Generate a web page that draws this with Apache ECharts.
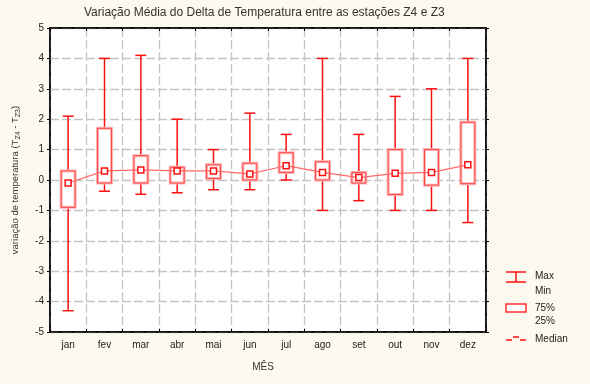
<!DOCTYPE html>
<html><head><meta charset="utf-8">
<script src="https://cdn.jsdelivr.net/npm/echarts@6/dist/echarts.min.js"></script>
<style>html,body{margin:0;padding:0;background:#fef9ee;}#c{width:590px;height:384px;}</style>
</head><body><div id="c"></div>
<script>
const months = ['jan','fev','mar','abr','mai','jun','jul','ago','set','out','nov','dez'];
const maxV   = [2.1, 4.0, 4.1, 2.0, 1.0, 2.2, 1.5, 4.0, 1.5, 2.75, 3.0, 4.0];
const q3V    = [0.3, 1.7, 0.8, 0.42, 0.5, 0.55, 0.9, 0.6, 0.25, 1.0, 1.0, 1.9];
const medV   = [-0.1, 0.3, 0.33, 0.3, 0.3, 0.2, 0.47, 0.25, 0.08, 0.22, 0.25, 0.5];
const q1V    = [-0.9, -0.1, -0.1, -0.1, 0.05, 0.0, 0.25, 0.0, -0.1, -0.48, -0.17, -0.12];
const minV   = [-4.3, -0.37, -0.47, -0.42, -0.32, -0.32, 0.0, -1.0, -0.68, -1.0, -1.0, -1.4];
const yTicks = [-5,-4,-3,-2,-1,0,1,2,3,4,5];

const boxData = months.map((m,i)=>[i, maxV[i], q3V[i], q1V[i], minV[i]]);
const FONT = 'Liberation Sans, Arial, sans-serif';
const chart = echarts.init(document.getElementById('c'));
chart.setOption({
  backgroundColor:'#fef9ee',
  animation:false,
  title:{text:'Variação Média do Delta de Temperatura entre as estações Z4 e Z3', left:79, top:2,
    textStyle:{fontFamily:FONT, fontSize:12, fontWeight:'normal', color:'#333'}},
  grid:{left:50, right:104, top:28, bottom:52, show:true, backgroundColor:'#ffffff', borderColor:'#000', borderWidth:1.5},
  xAxis:[{type:'category', data:months, boundaryGap:true,
    axisLine:{show:true, onZero:false, lineStyle:{color:'#000', width:1.5}},
    axisTick:{show:true, inside:true, length:3, lineStyle:{color:'#000'}},
    axisLabel:{fontFamily:FONT, fontSize:10, color:'#222', margin:8},
    splitLine:{show:true, lineStyle:{color:'#c4c4c4', width:1.3, type:[9,3]}},
    name:'MÊS', nameLocation:'middle', nameGap:30,
    nameTextStyle:{fontFamily:FONT, fontSize:10, color:'#333', padding:[0,10,0,0]}
  },{type:'category', data:months, boundaryGap:true, position:'top',
    axisLine:{show:true, onZero:false, lineStyle:{color:'#000', width:1.5}},
    axisTick:{show:true, inside:true, length:3, lineStyle:{color:'#000'}},
    axisLabel:{show:false}, splitLine:{show:false}}],
  yAxis:[{type:'value', min:-5, max:5, interval:1,
    axisLine:{show:true, onZero:false, lineStyle:{color:'#000', width:1.5}},
    axisTick:{show:true, length:3, lineStyle:{color:'#000'}},
    axisLabel:{fontFamily:FONT, fontSize:10, color:'#222', margin:6,
      formatter:v=>yTicks.includes(v)?String(v):''},
    splitLine:{show:true, lineStyle:{color:'#c4c4c4', width:1.3, type:[9,3]}},
    name:'variação de temperatura (T{s|Z4} - T{s|Z3})', nameLocation:'middle', nameGap:35,
    nameTextStyle:{fontFamily:FONT, fontSize:9.5, color:'#333', lineHeight:14, verticalAlign:'middle',
      rich:{s:{fontFamily:FONT, fontSize:7, color:'#333', lineHeight:14, verticalAlign:'bottom'}}}
  },{type:'value', min:-5, max:5, interval:1, position:'right',
    axisLine:{show:true, onZero:false, lineStyle:{color:'#000', width:1.5}},
    axisTick:{show:true, length:3, lineStyle:{color:'#000'}},
    axisLabel:{show:false}, splitLine:{show:false}}],
  series:[{
    type:'custom', data:boxData, z:2,
    renderItem:function(params, api){
      const i = api.value(0);
      const x = api.coord([i,0])[0];
      const yMax = api.coord([i, api.value(1)])[1];
      const yQ3 = api.coord([i, api.value(2)])[1];
      const yQ1 = api.coord([i, api.value(3)])[1];
      const yMin = api.coord([i, api.value(4)])[1];
      const bw = 14, cw = 11, red = '#ff1010';
      return {type:'group', children:[
        {type:'line', shape:{x1:x,y1:yMax,x2:x,y2:yMin}, style:{stroke:red, lineWidth:1.5}},
        {type:'line', shape:{x1:x-cw/2,y1:yMax,x2:x+cw/2,y2:yMax}, style:{stroke:red, lineWidth:1.5}},
        {type:'line', shape:{x1:x-cw/2,y1:yMin,x2:x+cw/2,y2:yMin}, style:{stroke:red, lineWidth:1.5}},
        {type:'rect', shape:{x:x-bw/2,y:yQ3,width:bw,height:yQ1-yQ3}, style:{fill:'#fff', stroke:'#ffb4b4', lineWidth:3}},
        {type:'rect', shape:{x:x-bw/2,y:yQ3,width:bw,height:yQ1-yQ3}, style:{fill:'none', stroke:'#ff4848', lineWidth:1}}
      ]};
    }
  },{
    type:'line', data:medV, z:3, symbol:'rect', symbolSize:6, showSymbol:true,
    lineStyle:{color:'#ff6a6a', width:1.2},
    itemStyle:{color:'#fff', borderColor:'#ff1010', borderWidth:1.5}
  }],
  graphic:[
    {type:'line', shape:{x1:506,y1:272,x2:526,y2:272}, style:{stroke:'#ff1010', lineWidth:1.5}},
    {type:'line', shape:{x1:506,y1:282,x2:526,y2:282}, style:{stroke:'#ff1010', lineWidth:1.5}},
    {type:'line', shape:{x1:516,y1:272,x2:516,y2:282}, style:{stroke:'#ff1010', lineWidth:1.5}},
    {type:'rect', shape:{x:506,y:304,width:20,height:8}, style:{fill:'#fff', stroke:'#ff3030', lineWidth:1.5}},
    {type:'polyline', shape:{points:[[506,340],[512,340]]}, style:{stroke:'#ff1010', lineWidth:1.5}},
    {type:'polyline', shape:{points:[[513,337],[519,337]]}, style:{stroke:'#ff1010', lineWidth:1.5}},
    {type:'polyline', shape:{points:[[520,340],[526,340]]}, style:{stroke:'#ff1010', lineWidth:1.5}},
    {type:'text', left:535, top:271, style:{text:'Max', font:'10px '+FONT, fill:'#222'}},
    {type:'text', left:535, top:286, style:{text:'Min', font:'10px '+FONT, fill:'#222'}},
    {type:'text', left:535, top:303, style:{text:'75%', font:'10px '+FONT, fill:'#222'}},
    {type:'text', left:535, top:316, style:{text:'25%', font:'10px '+FONT, fill:'#222'}},
    {type:'text', left:535, top:334, style:{text:'Median', font:'10px '+FONT, fill:'#222'}}
  ]
});
</script></body></html>
